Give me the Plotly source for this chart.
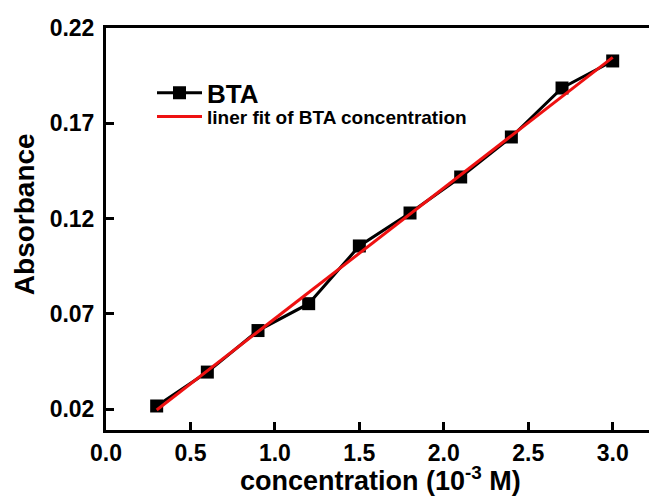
import plotly.graph_objects as go

# data
conc = [0.3, 0.6, 0.9, 1.2, 1.5, 1.8, 2.1, 2.4, 2.7, 3.0]
absorbance = [0.0216, 0.0394, 0.0612, 0.0753, 0.1056, 0.1229, 0.1418, 0.1628, 0.1885, 0.2027]
fit_x = [0.3, 3.0]
fit_y = [0.0195, 0.2046]
x_ticks = [0.0, 0.5, 1.0, 1.5, 2.0, 2.5, 3.0]
x_tick_labels = ["0.0", "0.5", "1.0", "1.5", "2.0", "2.5", "3.0"]
y_ticks = [0.02, 0.07, 0.12, 0.17, 0.22]
y_tick_labels = ["0.02", "0.07", "0.12", "0.17", "0.22"]
x_title = "concentration (10<sup>-3</sup> M)"
y_title = "Absorbance"

FONT = "Arial, Liberation Sans, sans-serif"

# the reference is cropped on the right: the figure is a bit wider than the window
FIG_W = 670
PLOT_W = FIG_W - 106


def px(v):
    return v / PLOT_W


fig = go.Figure()
fig.add_trace(go.Scatter(
    x=conc, y=absorbance, mode="lines+markers", name="BTA",
    line=dict(color="black", width=3),
    marker=dict(symbol="square", size=13, color="black"),
    legend="legend",
))
fig.add_trace(go.Scatter(
    x=fit_x, y=fit_y, mode="lines", name="liner fit of BTA concentration",
    line=dict(color="#ee1111", width=3),
    legend="legend2",
))

fig.update_layout(
    width=FIG_W, height=496,
    margin=dict(l=106, r=0, t=28, b=66, autoexpand=False),
    paper_bgcolor="white", plot_bgcolor="white",
    font=dict(family=FONT, color="black"),
    showlegend=True,
    legend=dict(x=px(46), y=0.897, xanchor="left", yanchor="top",
                font=dict(size=26, family=FONT, color="black", weight="bold"),
                bgcolor="rgba(0,0,0,0)", itemwidth=45),
    legend2=dict(x=px(46), y=0.827, xanchor="left", yanchor="top",
                 font=dict(size=19, family=FONT, color="black", weight="bold"),
                 bgcolor="rgba(0,0,0,0)", itemwidth=45),
    xaxis=dict(
        range=[0, PLOT_W / 168.9], tickvals=x_ticks, ticktext=x_tick_labels,
        ticks="inside", ticklen=8, tickwidth=2.5, tickcolor="black",
        showline=True, linewidth=3, linecolor="black", mirror=True,
        showgrid=False, zeroline=False, automargin=False,
        tickfont=dict(size=23, family=FONT, color="black", weight="bold"),
    ),
    yaxis=dict(
        range=[0.009, 0.22], tickvals=y_ticks, ticktext=y_tick_labels,
        ticks="inside", ticklen=8, tickwidth=2.5, tickcolor="black",
        showline=True, linewidth=3, linecolor="black", mirror=False,
        showgrid=False, zeroline=False, automargin=False,
        ticklabelstandoff=4,
        tickfont=dict(size=23, family=FONT, color="black", weight="bold"),
    ),
    annotations=[
        dict(text=x_title, xref="paper", yref="paper", x=px(274), y=-0.121,
             xanchor="center", yanchor="middle", showarrow=False,
             font=dict(size=27, family=FONT, color="black", weight="bold")),
        dict(text=y_title, xref="paper", yref="paper", x=px(-82), y=0.537,
             xanchor="center", yanchor="middle", textangle=-90, showarrow=False,
             font=dict(size=28, family=FONT, color="black", weight="bold")),
    ],
)

fig.write_html("out.html", config={"displayModeBar": False},
               post_script="document.body.style.margin='0';document.body.style.overflow='hidden';")
